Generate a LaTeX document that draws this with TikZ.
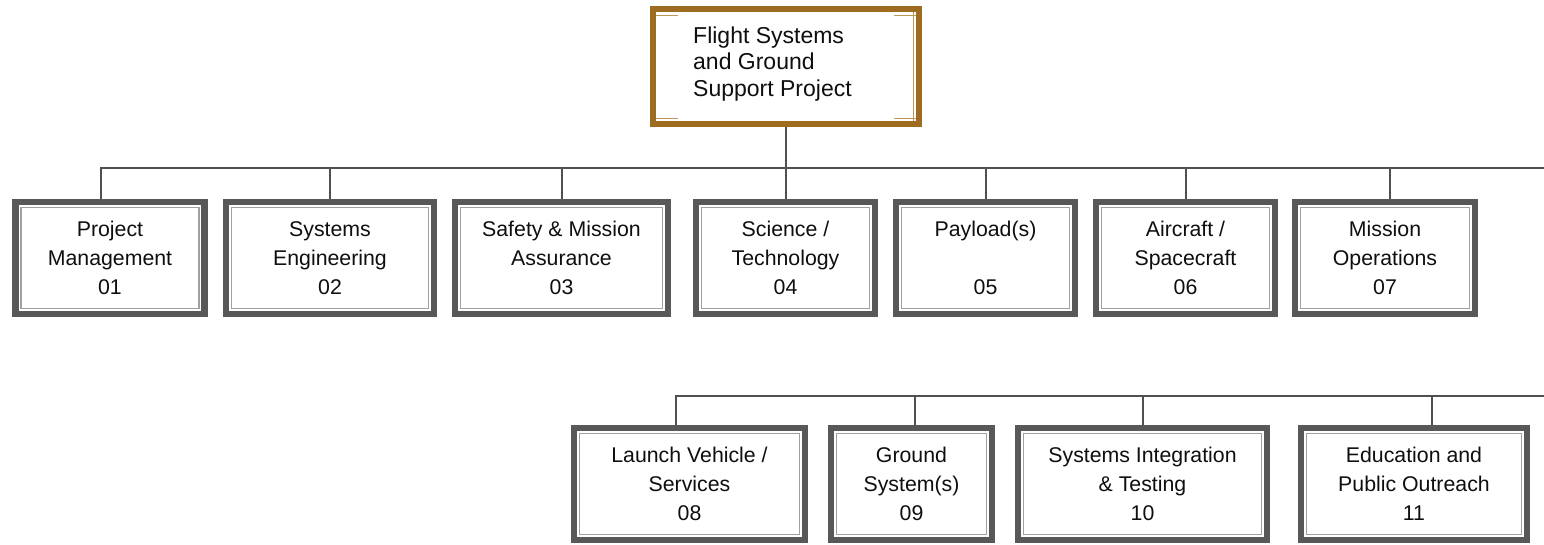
\documentclass[tikz,border=0pt]{standalone}
\usepackage{fontspec}
\setmainfont{Liberation Sans}
\definecolor{boxgray}{RGB}{88,88,88}
\definecolor{innergray}{RGB}{160,160,160}
\definecolor{topbrown}{RGB}{158,108,32}
\definecolor{innerbrown}{RGB}{190,150,90}
\definecolor{linegray}{RGB}{80,80,80}
\definecolor{txt}{RGB}{15,15,15}
\tikzset{
  wbs/.style={draw=boxgray, line width=6.5pt, fill=white, minimum height=112pt,
    align=center, font=\fontsize{21.3}{29}\selectfont, text=txt, inner sep=0pt,
    path picture={\draw[innergray, line width=1.2pt]
      ([shift={(5.5pt,-5.5pt)}]path picture bounding box.north west) rectangle
      ([shift={(-5.5pt,5.5pt)}]path picture bounding box.south east);}},
  topbox/.style={draw=topbrown, line width=6pt, fill=white, minimum width=266pt,
    minimum height=115pt, inner sep=0pt,
    path picture={
      \draw[innerbrown, line width=1pt]
        ([shift={(3pt,-6pt)}]path picture bounding box.north west) -- ++(22pt,0)
        ([shift={(3pt,6pt)}]path picture bounding box.south west) -- ++(22pt,0)
        ([shift={(-3pt,-6pt)}]path picture bounding box.north east) -- ++(-22pt,0)
        ([shift={(-3pt,6pt)}]path picture bounding box.south east) -- ++(-22pt,0)
        ([shift={(-6pt,-3pt)}]path picture bounding box.north east) -- ([shift={(-6pt,3pt)}]path picture bounding box.south east);}},
  toptext/.style={align=left, inner sep=0pt, text=txt, font=\fontsize{23}{26.5}\selectfont},
  conn/.style={draw=linegray, line width=1.3pt},
}
\begin{document}
\begin{tikzpicture}[x=1pt,y=1pt]
\useasboundingbox (0,0) rectangle (1544,-544);
% top box
\node[topbox] (top) at (786,-66.5) {};
\node[toptext, anchor=west] (toplabel) at (693,-64) {Flight Systems\\and Ground\\Support Project};
% row 1
\node[wbs, minimum width=189pt] (b01) at (110,-258) {Project\\Management\\01};
\node[wbs, minimum width=208pt] (b02) at (330,-258) {Systems\\Engineering\\02};
\node[wbs, minimum width=213pt] (b03) at (561.5,-258) {Safety \& Mission\\Assurance\\03};
\node[wbs, minimum width=179pt] (b04) at (785.5,-258) {Science /\\Technology\\04};
\node[wbs, minimum width=179pt] (b05) at (985.5,-258) {Payload(s)\\\mbox{}\\05};
\node[wbs, minimum width=179pt] (b06) at (1185.5,-258) {Aircraft /\\Spacecraft\\06};
\node[wbs, minimum width=180pt] (b07) at (1385,-258) {Mission\\Operations\\07};
% row 2
\node[wbs, minimum width=231pt] (b08) at (689.5,-484) {Launch Vehicle /\\Services\\08};
\node[wbs, minimum width=161pt] (b09) at (911.5,-484) {Ground\\System(s)\\09};
\node[wbs, minimum width=249pt] (b10) at (1142.5,-484) {Systems Integration\\\& Testing\\10};
\node[wbs, minimum width=226pt] (b11) at (1414,-484) {Education and\\Public Outreach\\11};
% buses
\coordinate (bus1end) at (1544,-168);
\coordinate (bus2end) at (1544,-396);
\draw[conn] (top.south) -- (top.south |- bus1end);
\draw[conn] ([xshift=-9pt]b01.north) |- (bus1end);
\draw[conn] (b02.north) -- (b02.north |- bus1end);
\draw[conn] ([xshift=0.5pt]b03.north) -- ([xshift=0.5pt]b03.north |- bus1end);
\draw[conn] ([xshift=0.5pt]b04.north) -- ([xshift=0.5pt]b04.north |- bus1end);
\draw[conn] ([xshift=0.5pt]b05.north) -- ([xshift=0.5pt]b05.north |- bus1end);
\draw[conn] ([xshift=0.5pt]b06.north) -- ([xshift=0.5pt]b06.north |- bus1end);
\draw[conn] ([xshift=5pt]b07.north) -- ([xshift=5pt]b07.north |- bus1end);
\draw[conn] ([xshift=-13.5pt]b08.north) |- (bus2end);
\draw[conn] ([xshift=3.5pt]b09.north) -- ([xshift=3.5pt]b09.north |- bus2end);
\draw[conn] ([xshift=0.5pt]b10.north) -- ([xshift=0.5pt]b10.north |- bus2end);
\draw[conn] ([xshift=18pt]b11.north) -- ([xshift=18pt]b11.north |- bus2end);
\end{tikzpicture}
\end{document}
